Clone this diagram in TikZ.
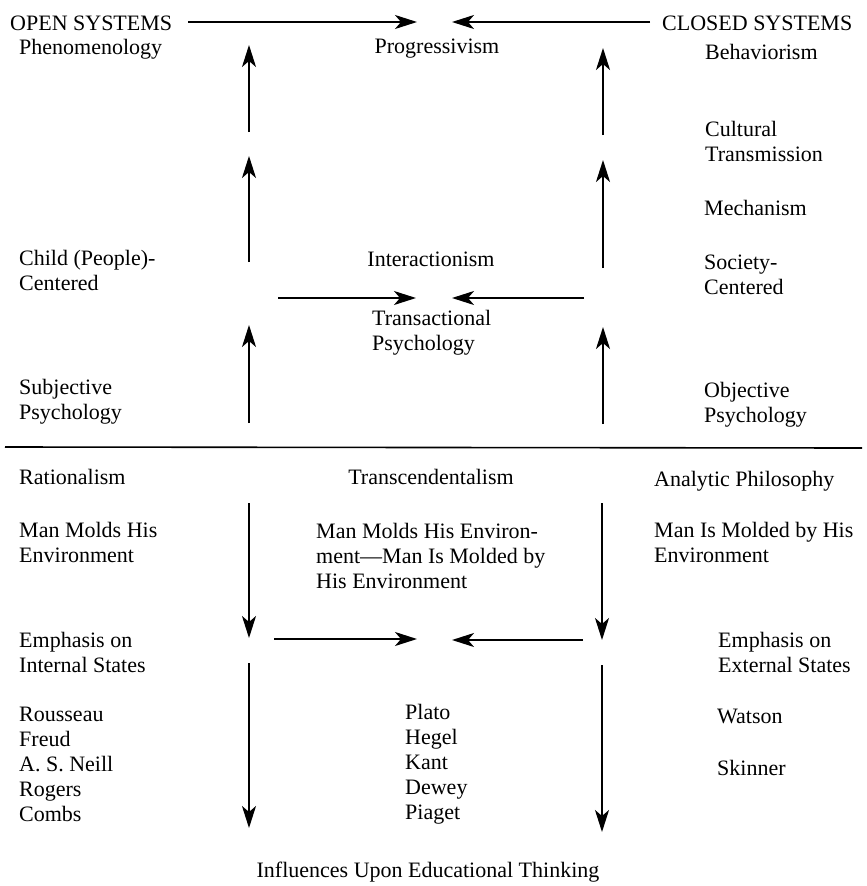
\documentclass[tikz,border=0pt]{standalone}
\usepackage{fontspec}
\setmainfont{Liberation Serif}
\usetikzlibrary{arrows.meta}

\begin{document}
\begin{tikzpicture}
  [x=1pt,y=-1pt,
   lbl/.style={inner sep=0pt,align=left,font=\fontsize{22}{25}\selectfont},
   flow/.style={line width=2pt,-{Stealth[length=22pt,width=14pt,inset=6pt]}}]
\useasboundingbox (0,0) rectangle (867,886);

% upper half: systems
\path
    [lbl,anchor=west]
    (10,23) node (open) {OPEN SYSTEMS}
    (19,49) node (phen) {Phenomenology}
    (662,23) node (closed) {CLOSED SYSTEMS}
    (705,52) node (behav) {Behaviorism}
    (705,141) node (cult) {Cultural\\Transmission}
    (704,208) node (mech) {Mechanism}
    (704,275) node (soc) {Society-\\Centered}
    (704,405) node (obj) {Objective\\Psychology}
    (19,270) node (child) {Child (People)-\\Centered}
    (19,402) node (subj) {Subjective\\Psychology}
    (372,333) node (trans) {Transactional\\Psychology};
\path
    [lbl]
    (437,49) node (prog) {Progressivism}
    (431,259) node (inter) {Interactionism};

% columns of arrows
\path
    (188,22) coordinate (top0) (417,22) coordinate (top1)
    (650,22) coordinate (top2) (452,22) coordinate (top3)
    (278,298) coordinate (mid0) (416,298) coordinate (mid1)
    (584,298) coordinate (mid2) (452,298) coordinate (mid3)
    (249,132) coordinate (l1a) (249,45) coordinate (l1b)
    (249,262) coordinate (l2a) (249,156) coordinate (l2b)
    (249,423) coordinate (l3a) (249,325) coordinate (l3b)
    (603,135) coordinate (r1a) (603,48) coordinate (r1b)
    (603,268) coordinate (r2a) (603,160) coordinate (r2b)
    (603,424) coordinate (r3a) (603,327) coordinate (r3b);
\draw [flow] (top0) -- (top1);
\draw [flow] (top2) -- (top3);
\draw [flow] (mid0) -- (mid1);
\draw [flow] (mid2) -- (mid3);
\foreach \c in {l1,l2,l3,r1,r2,r3}
    \draw [flow] (\c a) -- (\c b);

% dividing rule
\path (5,447) coordinate (rule0) (862,448) coordinate (rule1);
\draw [line width=1.6pt] (rule0) -- (rule1);

% lower half: philosophies
\path
    [lbl,anchor=west]
    (19,477) node (ratio) {Rationalism}
    (654,481) node (analy) {Analytic Philosophy}
    (19,542) node (molds) {Man Molds His\\Environment}
    (316,556) node (both) {Man Molds His Environ-\\ment---Man Is Molded by\\His Environment}
    (654,542) node (molded) {Man Is Molded by His\\Environment}
    (19,652) node (inner) {Emphasis on\\Internal States}
    (718,652) node (outer) {Emphasis on\\External States}
    (19,764) node (names1) {Rousseau\\Freud\\A. S. Neill\\Rogers\\Combs}
    (405,764) node (names2) {Plato\\Hegel\\Kant\\Dewey\\Piaget}
    (717,716) node (watson) {Watson}
    (717,768) node (skinner) {Skinner};
\path
    [lbl]
    (431,477) node (transc) {Transcendentalism}
    (428,872) node (caption) {Influences Upon Educational Thinking};

\path
    (274,639) coordinate (low0) (417,639) coordinate (low1)
    (583,640) coordinate (low2) (452,640) coordinate (low3)
    (249,503) coordinate (l4a) (249,638) coordinate (l4b)
    (249,663) coordinate (l5a) (249,828) coordinate (l5b)
    (602,503) coordinate (r4a) (602,640) coordinate (r4b)
    (602,665) coordinate (r5a) (602,832) coordinate (r5b);
\draw [flow] (low0) -- (low1);
\draw [flow] (low2) -- (low3);
\foreach \c in {l4,l5,r4,r5}
    \draw [flow] (\c a) -- (\c b);
\end{tikzpicture}
\end{document}
